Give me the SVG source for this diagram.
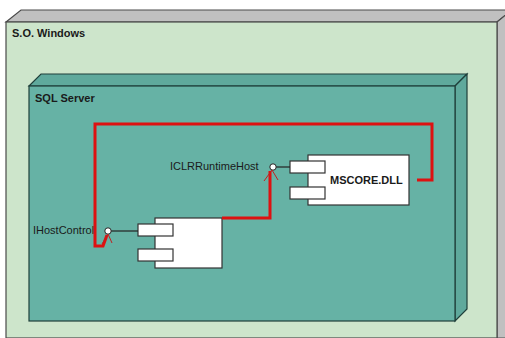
<svg xmlns="http://www.w3.org/2000/svg" width="505" height="338" viewBox="0 0 505 338">
<defs>
<style>
.txt{font-family:"Liberation Sans",Arial,sans-serif;font-size:11px;fill:#1a1a1a}
.b{font-weight:bold}
.outerF{fill:#cde5cb;stroke:#4a4a4a;stroke-width:1.2}
.outerS{fill:#c0c0c0;stroke:#4a4a4a;stroke-width:1.2}
.innerF{fill:#66b2a5;stroke:#1f3f3a;stroke-width:1.2}
.innerS{fill:#5fa99c;stroke:#1f3f3a;stroke-width:1.2}
.comp{fill:#ffffff;stroke:#333;stroke-width:1.2}
.red{fill:none;stroke:#dd1111;stroke-width:3;stroke-linejoin:miter}
.arr{fill:none;stroke:#c02020;stroke-width:1}
.lol{fill:none;stroke:#222;stroke-width:1.2}
</style>
</defs>
<g id="node-windows">
<polygon class="outerS" points="6,22 21,10 512,10 497,22"/>
<polygon class="outerS" points="497,22 512,10 512,338 497,338"/>
<rect class="outerF" x="6" y="22" width="491" height="316"/>
<text class="txt b" x="12" y="37">S.O. Windows</text>
</g>
<g id="node-sqlserver">
<polygon class="innerS" points="29,86 41,74 467,74 455,86"/>
<polygon class="innerS" points="455,86 467,74 467,309 455,321"/>
<rect class="innerF" x="29" y="86" width="426" height="235"/>
<text class="txt b" x="35" y="102">SQL Server</text>
</g>
<g id="node-host">
<rect class="comp" x="155" y="218" width="67" height="50"/>
<rect class="comp" x="138" y="224" width="35" height="12"/>
<rect class="comp" x="138" y="249" width="35" height="12"/>
<line class="lol" x1="111" y1="231" x2="138" y2="231"/>
<circle cx="108" cy="231" r="3.2" fill="#fff" stroke="#222" stroke-width="1"/>
<text class="txt" x="33" y="234">IHostControl</text>
</g>
<g id="node-mscore">
<rect class="comp" x="308" y="155" width="101" height="50"/>
<rect class="comp" x="290" y="161" width="35" height="12"/>
<rect class="comp" x="290" y="187" width="35" height="12"/>
<line class="lol" x1="276" y1="167" x2="290" y2="167"/>
<circle cx="273" cy="167" r="3.2" fill="#fff" stroke="#222" stroke-width="1"/>
<text class="txt b" x="330" y="184">MSCORE.DLL</text>
<text class="txt" x="170" y="170">ICLRRuntimeHost</text>
</g>
<g id="connectors">
<path class="red" d="M417,180 H432 V124 H95 V246 H103 L107,235"/>
<path class="red" d="M222,218 H270 V171"/>
<path class="arr" d="M102,244 L108,234 L112,243"/>
<path class="arr" d="M264,181 L272,170 L278,180"/>
</g>
</svg>
